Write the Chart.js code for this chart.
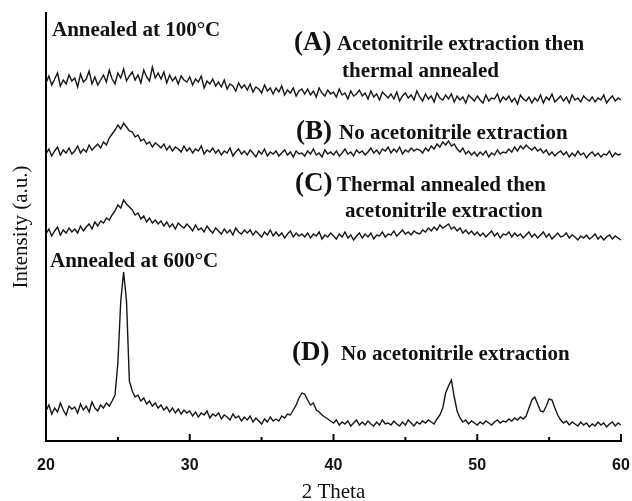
<!DOCTYPE html>
<html>
<head>
<meta charset="utf-8">
<script src="https://cdn.jsdelivr.net/npm/chart.js@4.4.0/dist/chart.umd.min.js"></script>
<style>
html,body{margin:0;padding:0;background:#fff;}
canvas{display:block;}
</style>
</head>
<body>
<canvas id="xrd" width="632" height="501"></canvas>
<script>
// Data (2 theta grid, step 0.2 deg)
const theta=[
20.0,20.2,20.4,20.6,20.8,21.0,21.2,21.4,21.6,21.8,
22.0,22.2,22.4,22.6,22.8,23.0,23.2,23.4,23.6,23.8,
24.0,24.2,24.4,24.6,24.8,25.0,25.2,25.4,25.6,25.8,
26.0,26.2,26.4,26.6,26.8,27.0,27.2,27.4,27.6,27.8,
28.0,28.2,28.4,28.6,28.8,29.0,29.2,29.4,29.6,29.8,
30.0,30.2,30.4,30.6,30.8,31.0,31.2,31.4,31.6,31.8,
32.0,32.2,32.4,32.6,32.8,33.0,33.2,33.4,33.6,33.8,
34.0,34.2,34.4,34.6,34.8,35.0,35.2,35.4,35.6,35.8,
36.0,36.2,36.4,36.6,36.8,37.0,37.2,37.4,37.6,37.8,
38.0,38.2,38.4,38.6,38.8,39.0,39.2,39.4,39.6,39.8,
40.0,40.2,40.4,40.6,40.8,41.0,41.2,41.4,41.6,41.8,
42.0,42.2,42.4,42.6,42.8,43.0,43.2,43.4,43.6,43.8,
44.0,44.2,44.4,44.6,44.8,45.0,45.2,45.4,45.6,45.8,
46.0,46.2,46.4,46.6,46.8,47.0,47.2,47.4,47.6,47.8,
48.0,48.2,48.4,48.6,48.8,49.0,49.2,49.4,49.6,49.8,
50.0,50.2,50.4,50.6,50.8,51.0,51.2,51.4,51.6,51.8,
52.0,52.2,52.4,52.6,52.8,53.0,53.2,53.4,53.6,53.8,
54.0,54.2,54.4,54.6,54.8,55.0,55.2,55.4,55.6,55.8,
56.0,56.2,56.4,56.6,56.8,57.0,57.2,57.4,57.6,57.8,
58.0,58.2,58.4,58.6,58.8,59.0,59.2,59.4,59.6,59.8,
60.0];

// (A) acetonitrile extraction then thermal annealed (offset trace)
const seriesA=[
358,365,356,362,368,355,361,357,366,360,
363,354,367,359,362,370,357,364,356,361,
366,359,371,362,357,368,363,372,360,365,
369,361,366,358,371,364,360,374,363,368,
362,369,358,366,360,364,357,365,361,359,
364,356,362,359,365,353,360,357,362,355,
359,354,361,352,357,355,350,358,353,356,
351,357,349,354,352,348,356,350,353,347,
353,349,355,346,351,348,353,345,350,352,
347,352,346,350,344,353,348,345,351,347,
349,344,352,346,348,342,350,345,347,351,
345,348,342,350,344,347,341,349,346,343,
347,342,349,340,345,348,343,346,341,350,
344,340,347,342,345,339,348,343,341,346,
342,347,339,345,341,344,338,346,343,340,
345,341,338,346,340,343,342,347,339,344,
341,345,339,343,337,346,342,340,344,338,
343,340,346,338,344,341,347,339,342,345,
340,344,338,346,341,343,339,345,342,340,
344,339,343,341,346,338,342,345,340,343,
341];

// (B) no acetonitrile extraction, 100 C
const seriesB=[
287,292,285,290,294,286,291,288,293,287,
290,295,288,292,289,296,291,294,297,293,
299,296,303,307,311,316,312,318,314,310,
309,304,306,300,302,297,299,294,298,296,
293,297,291,295,290,294,292,289,295,290,
293,288,292,290,295,287,291,289,293,288,
291,286,290,288,293,285,289,292,287,290,
286,291,288,284,290,287,292,285,289,287,
290,285,288,291,286,289,284,290,287,288,
285,290,287,292,286,288,284,291,287,289,
286,290,285,288,292,287,289,285,291,288,
290,286,289,293,288,291,287,292,290,294,
288,292,289,294,287,291,289,293,290,292,
291,288,293,290,295,292,297,294,299,296,
300,295,297,292,289,293,287,290,286,289,
285,289,286,290,284,288,286,291,287,289,
288,292,289,294,290,295,292,296,293,291,
294,290,292,288,291,286,289,285,288,290,
286,289,284,288,285,290,286,288,283,287,
289,285,288,284,287,286,290,284,288,286,
287];

// (C) thermal annealed then acetonitrile extraction
const seriesC=[
207,212,205,210,214,206,211,208,213,209,
212,208,215,210,214,217,212,219,215,220,
218,223,221,226,230,236,233,241,237,234,
231,226,228,222,225,219,223,218,221,217,
220,215,219,214,217,212,218,215,213,217,
214,210,216,211,213,209,215,211,208,213,
210,207,212,208,211,206,213,209,207,211,
208,211,206,210,207,204,209,206,211,205,
209,205,208,203,207,210,204,208,205,207,
204,208,203,207,205,209,202,206,204,208,
205,202,207,204,209,203,206,201,205,208,
203,207,204,208,202,206,205,209,204,207,
206,210,205,208,211,207,209,206,210,208,
207,211,209,213,210,214,211,216,213,215,
217,212,214,210,213,208,211,207,210,206,
209,205,208,204,207,210,205,208,203,207,
206,209,204,208,205,207,203,206,209,204,
207,203,206,209,204,207,202,205,208,204,
205,208,203,206,204,201,205,203,206,202,
204,207,202,205,201,204,206,202,205,203,
201];

// (D) no acetonitrile extraction, 600 C
const seriesD=[
30,36,27,33,29,38,31,26,35,32,
34,28,37,31,35,29,39,33,30,36,
33,38,35,40,46,78,140,169,140,60,
50,44,46,40,43,37,40,35,38,33,
36,31,34,29,33,28,32,27,31,28,
30,25,29,24,28,26,30,23,27,25,
28,22,26,24,21,27,23,25,20,24,
21,25,19,23,20,17,22,19,24,20,
22,20,25,23,27,26,31,36,43,48,
47,41,36,38,31,29,26,24,22,20,
18,21,16,19,17,20,15,18,21,16,
19,16,20,17,15,19,16,21,17,18,
16,20,17,15,19,16,21,18,15,19,
17,20,18,21,19,17,22,26,33,48,
55,61,44,30,23,19,21,17,20,18,
16,19,17,20,18,16,19,21,18,20,
19,22,20,23,21,24,22,25,33,41,
44,37,30,29,35,42,41,33,26,21,
18,20,16,19,17,15,19,16,18,14,
17,15,19,16,18,14,17,19,15,18,
16];

const majorTicks=[20,30,40,50,60];
const minorTicks=[25,35,45,55];

// Text labels on the plot
const bigFont='bold 27px "Liberation Serif"';
const txtFont='bold 21px "Liberation Serif"';
const notes=[
  {text:'Annealed at 100°C',font:txtFont,x:52,y:36},
  {text:'(A)',font:bigFont,x:294,y:50},
  {text:'Acetonitrile extraction then',font:txtFont,x:337,y:50},
  {text:'thermal annealed',font:txtFont,x:342,y:77},
  {text:'(B)',font:bigFont,x:296,y:139},
  {text:'No acetonitrile extraction',font:txtFont,x:339,y:139},
  {text:'(C)',font:bigFont,x:295,y:191},
  {text:'Thermal annealed then',font:txtFont,x:337,y:191},
  {text:'acetonitrile extraction',font:txtFont,x:345,y:217},
  {text:'Annealed at 600°C',font:txtFont,x:50,y:267},
  {text:'(D)',font:bigFont,x:292,y:360},
  {text:'No acetonitrile extraction',font:txtFont,x:341,y:360}
];

function toPoints(arr){ return theta.map((t,i)=>({x:t,y:arr[i]})); }

function lineSet(label,arr){
  return {label,data:toPoints(arr),borderColor:'#161616',borderWidth:1.4,pointRadius:0,tension:0,fill:false};
}

// inward tick marks on the bottom axis
const tickPlugin={
  id:'innerTicks',
  afterDraw(chart){
    const c=chart.ctx, xs=chart.scales.x, yb=chart.chartArea.bottom;
    c.save();
    c.strokeStyle='#000'; c.lineWidth=2;
    majorTicks.forEach(v=>{const px=xs.getPixelForValue(v);c.beginPath();c.moveTo(px,yb);c.lineTo(px,yb-7);c.stroke();});
    minorTicks.forEach(v=>{const px=xs.getPixelForValue(v);c.beginPath();c.moveTo(px,yb);c.lineTo(px,yb-4);c.stroke();});
    c.restore();
  }
};

const notePlugin={
  id:'notes',
  afterDraw(chart){
    const c=chart.ctx;
    c.save();
    c.fillStyle='#111'; c.textBaseline='alphabetic'; c.textAlign='left';
    notes.forEach(n=>{c.font=n.font;c.fillText(n.text,n.x,n.y);});
    c.restore();
  }
};

const chart=new Chart(document.getElementById('xrd').getContext('2d'),{
  type:'line',
  data:{datasets:[lineSet('A',seriesA),lineSet('B',seriesB),lineSet('C',seriesC),lineSet('D',seriesD)]},
  options:{
    responsive:false,animation:false,devicePixelRatio:1,
    layout:{padding:{left:0,top:13,right:11,bottom:0}},
    plugins:{legend:{display:false},tooltip:{enabled:false}},
    scales:{
      x:{type:'linear',min:20,max:60,
        ticks:{stepSize:10,padding:15,color:'#111',font:{family:'"Liberation Sans"',size:16,weight:'bold'}},
        grid:{display:false,drawTicks:false},
        border:{display:true,color:'#000',width:2},
        title:{display:true,text:'2 Theta',color:'#111',padding:{top:0,bottom:0},font:{family:'"Liberation Serif"',size:21,lineHeight:0.85}},
        afterFit(s){s.height=60;s.paddingLeft=0;s.paddingRight=0;}
      },
      y:{min:0,max:428,
        ticks:{display:false},
        grid:{display:false,drawTicks:false},
        border:{display:true,color:'#000',width:2},
        title:{display:true,text:'Intensity (a.u.)',color:'#111',padding:{top:11,bottom:0},font:{family:'"Liberation Serif"',size:21,lineHeight:1}},
        afterFit(s){s.width=46;}
      }
    }
  },
  plugins:[tickPlugin,notePlugin]
});
</script>
</body>
</html>
